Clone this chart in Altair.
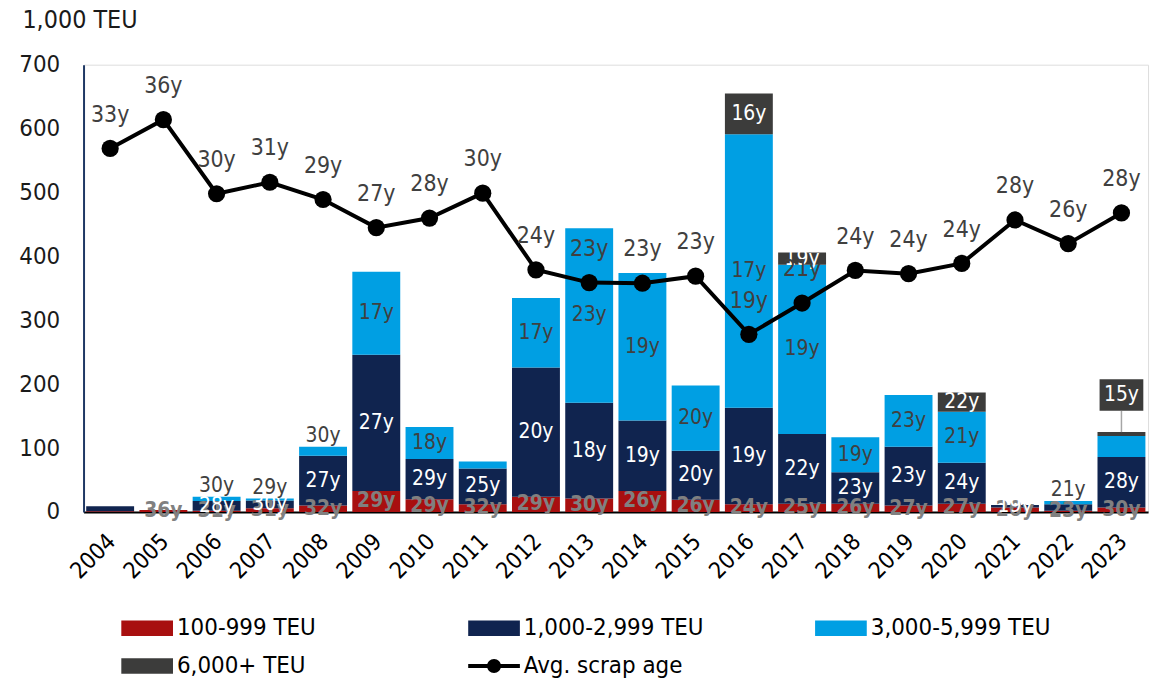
import altair as alt
import pandas as pd

years = [str(y) for y in range(2004, 2024)]
red = [1, 3, 2, 6, 10, 33, 20, 12, 24, 21, 33, 19, 12, 13, 13, 10, 13, 7, 2, 7]
navy = [8, 0, 15, 12, 78, 213, 63, 56, 202, 150, 110, 77, 151, 109, 49, 92, 64, 4, 10, 79]
lblue = [0, 0, 7, 3, 14, 130, 50, 11, 109, 273, 231, 102, 428, 265, 55, 81, 80, 0, 5, 33]
dgrey = [0, 0, 0, 0, 0, 0, 0, 0, 0, 0, 0, 0, 64, 19, 0, 0, 30, 0, 0, 6]

red_lab = ["", "36y", "31y", "31y", "32y", "29y", "29y", "32y", "29y", "30y", "26y", "26y", "24y", "25y", "26y", "27y", "27y", "20y", "23y", "30y"]
navy_lab = ["", "", "28y", "30y", "27y", "27y", "29y", "25y", "20y", "18y", "19y", "20y", "19y", "22y", "23y", "23y", "24y", "19y", "", "28y"]
lblue_lab = ["", "", "30y", "29y", "30y", "17y", "18y", "", "17y", "23y", "19y", "20y", "17y", "19y", "19y", "23y", "21y", "", "21y", ""]
dgrey_lab = ["", "", "", "", "", "", "", "", "", "", "", "", "16y", "19y", "", "", "22y", "", "", "15y"]

avg_age = [33.45, 35.7, 29.9, 30.8, 29.45, 27.25, 28.0, 29.95, 23.95, 22.95, 22.9, 23.45, 18.9, 21.35, 23.9, 23.65, 24.45, 27.85, 26.0, 28.4]

series = ["100-999 TEU", "1,000-2,999 TEU", "3,000-5,999 TEU", "6,000+ TEU", "Avg. scrap age"]
colors = ["#A80F0F", "#10244F", "#009FE3", "#3C3C3B", "#000000"]
color_of = dict(zip(series, colors))

FONT = "Liberation Sans Narrow, DejaVu Sans Condensed, Roboto, sans-serif"

rows = []
for i, yr in enumerate(years):
    base = 0
    segs = [(series[0], red[i], red_lab[i]), (series[1], navy[i], navy_lab[i]),
            (series[2], lblue[i], lblue_lab[i]), (series[3], dgrey[i], dgrey_lab[i])]
    total = red[i] + navy[i] + lblue[i] + dgrey[i]
    for name, v, lab in segs:
        top = base + v
        mid = (base + top) / 2
        if name == series[2] and 0 < v < 20:
            mid = top + 17
        rows.append({"year": yr, "series": name, "fill": color_of[name], "y0": base,
                     "y1": top, "ly": mid, "label": lab, "total": total})
        base = top
df = pd.DataFrame(rows)
bars_df = df[df.y1 > df.y0]

line_df = pd.DataFrame({"year": years, "age": avg_age,
                        "label": [f"{round(a)}y" for a in avg_age]})

x_enc = alt.X("year:O", title=None,
              scale=alt.Scale(paddingInner=0.1, paddingOuter=0.05),
              axis=alt.Axis(labelAngle=-45, labelFontSize=23, labelFont=FONT,
                            labelColor="#000000", ticks=False, domainColor="#000000",
                            domainWidth=2, labelPadding=18, labelOffset=-6))
y_scale = alt.Scale(domain=[0, 700], nice=False)
y_axis = alt.Axis(values=list(range(0, 701, 100)), labelFontSize=24, labelFont=FONT,
                  labelColor="#1a1a1a", ticks=False, grid=False, domainColor="#1F3864",
                  domainWidth=2, labelPadding=24, title="1,000 TEU", titleAngle=0,
                  titleAlign="left", titleBaseline="middle", titleX=-62, titleY=-45,
                  titleFontSize=25, titleFont=FONT, titleFontWeight="normal",
                  titleColor="#1a1a1a")

color_scale = alt.Scale(domain=series, range=colors)

bars = alt.Chart(bars_df).mark_bar().encode(
    x=x_enc,
    y=alt.Y("y0:Q", scale=y_scale, axis=y_axis),
    y2="y1:Q",
    color=alt.Color("fill:N", scale=None),
)

def seg_text(name, color, bold=False):
    d = df[(df.series == name) & (df.label != "")]
    if name == series[3]:
        d = d[d.year != "2023"]
    return alt.Chart(d).mark_text(font=FONT, fontSize=21, color=color,
                                  fontWeight="bold" if bold else "normal",
                                  baseline="middle").encode(
        x="year:O", y=alt.Y("ly:Q", scale=y_scale), text="label:N")

t_red = seg_text(series[0], "#808080", bold=True)
t_navy = seg_text(series[1], "#FFFFFF")
t_lb = seg_text(series[2], "#404040")
t_dg = seg_text(series[3], "#FFFFFF")

# callout for 2023 6,000+ TEU
call_df = df[(df.series == series[3]) & (df.year == "2023")].copy()
call_df["ly"] = call_df["total"] + 58
call_df["r0"] = call_df["total"]
call_df["r1"] = call_df["total"] + 33
call_rule = alt.Chart(call_df).mark_rule(color="#A6A6A6", strokeWidth=1.5).encode(
    x="year:O", y=alt.Y("r0:Q", scale=y_scale), y2="r1:Q")
call_box = alt.Chart(call_df).mark_point(
    shape="M-1,-0.72H1V0.72H-1Z", filled=True, color="#3C3C3B", opacity=1, size=1936
).encode(x="year:O", y=alt.Y("ly:Q", scale=y_scale))
call_txt = alt.Chart(call_df).mark_text(font=FONT, fontSize=21, color="#FFFFFF").encode(
    x="year:O", y=alt.Y("ly:Q", scale=y_scale), text="label:N")

age_scale = alt.Scale(domain=[5, 40], nice=False)
line = alt.Chart(line_df).mark_line(color="#000000", strokeWidth=4).encode(
    x="year:O", y=alt.Y("age:Q", scale=age_scale, axis=None))
pts = alt.Chart(line_df).mark_circle(color="#000000", size=300, opacity=1).encode(
    x="year:O", y=alt.Y("age:Q", scale=age_scale, axis=None))
line_lab = alt.Chart(line_df).mark_text(font=FONT, fontSize=23, color="#404040", dy=-34).encode(
    x="year:O", y=alt.Y("age:Q", scale=age_scale, axis=None), text="label:N")

rect_path = "M-1,-0.3H1V0.3H-1Z"
line_path = "M-1,-0.08H1V0.08H-1Z M0.27,0A0.27,0.27 0 1,1 -0.27,0A0.27,0.27 0 1,1 0.27,0Z"
leg_df = pd.DataFrame({"series": series, "age": [10] * 5, "year": years[:5]})
leg_props = dict(title=None, orient="none", legendX=38, legendY=541, direction="horizontal",
                 columns=3, columnPadding=112, rowPadding=-18,
                 symbolSize=2704, symbolStrokeWidth=0, symbolOpacity=1,
                 labelFontSize=24, labelFont=FONT, labelColor="#000000",
                 labelOffset=4, labelLimit=400, gridAlign="all")
legend_layer = alt.Chart(leg_df).mark_point(filled=True, opacity=0).encode(
    x="year:O",
    y=alt.Y("age:Q", scale=age_scale, axis=None),
    color=alt.Color("series:N", scale=color_scale, legend=alt.Legend(**leg_props)),
    shape=alt.Shape("series:N", scale=alt.Scale(domain=series,
                    range=[rect_path, rect_path, rect_path, rect_path, line_path]),
                    legend=alt.Legend(**leg_props)),
)

left = alt.layer(bars, t_red, t_navy, t_lb, t_dg, call_rule, call_box, call_txt)
right = alt.layer(line, pts, line_lab, legend_layer)

chart = alt.layer(left, right).resolve_scale(y="independent").properties(
    width=1071, height=450,
    autosize=alt.AutoSizeParams(type="none"),
    padding={"left": 76, "top": 55, "right": 10, "bottom": 165},
).configure_view(stroke=None).configure(background="#FFFFFF")

chart.save("out.html", embed_options={"renderer": "svg", "actions": False})
